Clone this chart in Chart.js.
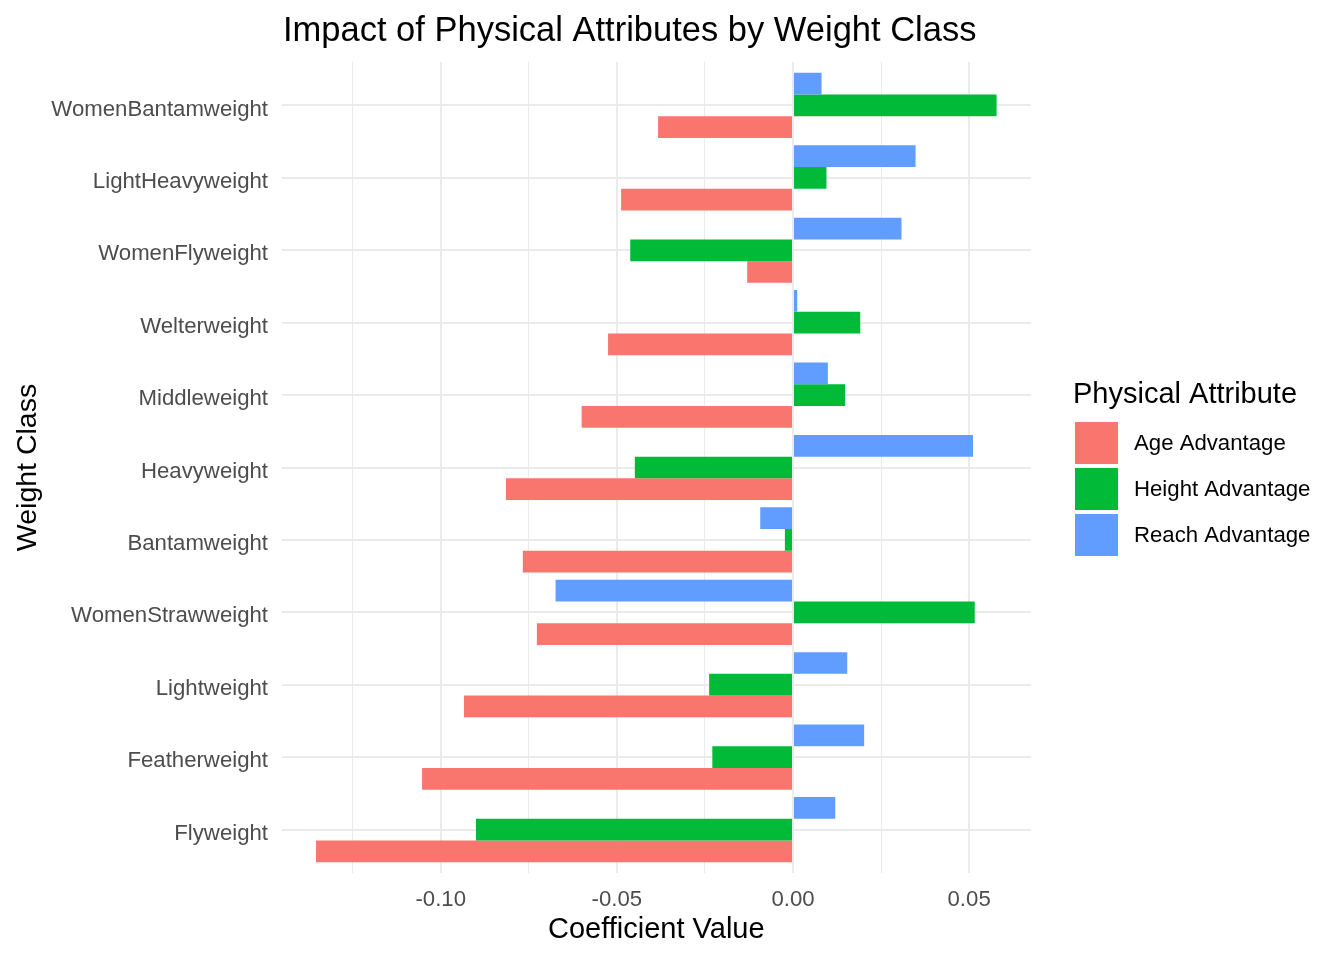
<!DOCTYPE html>
<html>
<head>
<meta charset="utf-8">
<title>Impact of Physical Attributes by Weight Class</title>
<script src="https://cdn.jsdelivr.net/npm/chart.js@4.4.1/dist/chart.umd.min.js"></script>
<style>
  html, body { margin: 0; padding: 0; background: #fff; }
  canvas { display: block; }
</style>
</head>
<body>
<canvas id="board" width="1344" height="960"></canvas>
<script>
// data, top to bottom as in the picture
const weightClasses = ["WomenBantamweight", "LightHeavyweight", "WomenFlyweight", "Welterweight",
                       "Middleweight", "Heavyweight", "Bantamweight", "WomenStrawweight",
                       "Lightweight", "Featherweight", "Flyweight"];
const ageAdvantage    = [-0.0383, -0.0488, -0.0130, -0.0525, -0.0600, -0.0815, -0.0767, -0.0727, -0.0934, -0.1053, -0.1354];
const heightAdvantage = [ 0.0578,  0.0095, -0.0462,  0.0191,  0.0148, -0.0449, -0.0023,  0.0516, -0.0238, -0.0229, -0.0900];
const reachAdvantage  = [ 0.0081,  0.0348,  0.0308,  0.0012,  0.0099,  0.0511, -0.0093, -0.0674,  0.0154,  0.0202,  0.0120];

const xTicks  = [-0.125, -0.10, -0.075, -0.05, -0.025, 0, 0.025, 0.05];
const xLabels = ["", "-0.10", "", "-0.05", "", "0.00", "", "0.05"];

const chartTitle  = "Impact of Physical Attributes by Weight Class";
const legendTitle = "Physical Attribute";
const seriesNames = ["Age Advantage", "Height Advantage", "Reach Advantage"];
const seriesColors = ["#F8766D", "#00BA38", "#619CFF"];

const family = "'Liberation Sans', Arial, sans-serif";

// ggplot style 5% expansion of the value axis
const allVals = ageAdvantage.concat(heightAdvantage, reachAdvantage);
const vMin = Math.min(...allVals), vMax = Math.max(...allVals);
const pad = (vMax - vMin) * 0.05;

function series(vals) {
  return vals.map((v, i) => ({ x: v, y: i }));
}

// title, category labels and legend drawn by hand (ggplot placement)
const annotate = {
  id: "annotate",
  afterDraw(chart) {
    const ctx = chart.ctx;
    const area = chart.chartArea;
    const yScale = chart.scales.y;
    ctx.save();
    ctx.fillStyle = "#000";
    ctx.textAlign = "left";
    ctx.textBaseline = "alphabetic";
    ctx.font = "34.5px " + family;
    ctx.fillText(chartTitle, area.left + 1, 41);

    // category labels, sitting a touch below the grid line like ggplot does
    ctx.fillStyle = "#4D4D4D";
    ctx.font = "22.2px " + family;
    ctx.textAlign = "right";
    ctx.textBaseline = "middle";
    weightClasses.forEach((name, i) => {
      ctx.fillText(name, area.left - 14, yScale.getPixelForValue(i) + 4);
    });

    const lx = Math.floor(area.right) + 45;
    const midY = (area.top + area.bottom) / 2;
    ctx.textAlign = "left";
    ctx.textBaseline = "alphabetic";
    ctx.fillStyle = "#000";
    ctx.font = "29px " + family;
    ctx.fillText(legendTitle, lx - 2, midY - 65);
    for (let i = 0; i < seriesNames.length; i++) {
      const top = midY - 45.5 + i * 46;
      ctx.fillStyle = seriesColors[i];
      ctx.fillRect(lx, top, 43, 42);
      ctx.fillStyle = "#000";
      ctx.font = "22.2px " + family;
      ctx.textBaseline = "middle";
      ctx.fillText(seriesNames[i], lx + 59, top + 22);
      ctx.textBaseline = "alphabetic";
    }
    ctx.restore();
  }
};

new Chart(document.getElementById("board"), {
  type: "bar",
  data: {
    datasets: [
      { label: seriesNames[2], data: series(reachAdvantage),  backgroundColor: seriesColors[2] },
      { label: seriesNames[1], data: series(heightAdvantage), backgroundColor: seriesColors[1] },
      { label: seriesNames[0], data: series(ageAdvantage),    backgroundColor: seriesColors[0] }
    ]
  },
  options: {
    indexAxis: "y",
    responsive: false,
    animation: false,
    events: [],
    categoryPercentage: 0.9,
    barPercentage: 1.0,
    layout: { padding: { top: 62, right: 313.37, bottom: 0, left: 0 } },
    plugins: {
      legend: { display: false },
      title: { display: false },
      tooltip: { enabled: false }
    },
    scales: {
      x: {
        type: "linear",
        min: vMin - pad,
        max: vMax + pad,
        bounds: "data",
        afterBuildTicks: s => { s.ticks = xTicks.map(v => ({ value: v })); },
        afterFit: s => { s.height = 87; },
        border: { display: false },
        grid: {
          color: "#EBEBEB",
          lineWidth: c => (xLabels[c.index] ? 2 : 1),
          drawTicks: false
        },
        ticks: {
          callback: (v, i) => xLabels[i],
          color: "#4D4D4D",
          font: { size: 22.2, family: family },
          padding: 14,
          maxRotation: 0,
          autoSkip: false
        },
        title: {
          display: true,
          text: "Coefficient Value",
          color: "#000",
          font: { size: 29, family: family },
          padding: { top: 0, bottom: 13 }
        }
      },
      y: {
        type: "linear",
        reverse: true,
        offset: false,
        min: -0.6,
        max: weightClasses.length - 0.4,
        bounds: "data",
        afterBuildTicks: s => { s.ticks = weightClasses.map((_, i) => ({ value: i })); },
        afterFit: s => { s.width = 282; },
        border: { display: false },
        grid: { color: "#EBEBEB", lineWidth: 2, drawTicks: false, offset: false },
        ticks: { display: false },
        title: {
          display: true,
          text: "Weight Class",
          color: "#000",
          font: { size: 28.5, family: family },
          padding: { top: 11, bottom: 0 }
        }
      }
    }
  },
  plugins: [annotate]
});
</script>
</body>
</html>
